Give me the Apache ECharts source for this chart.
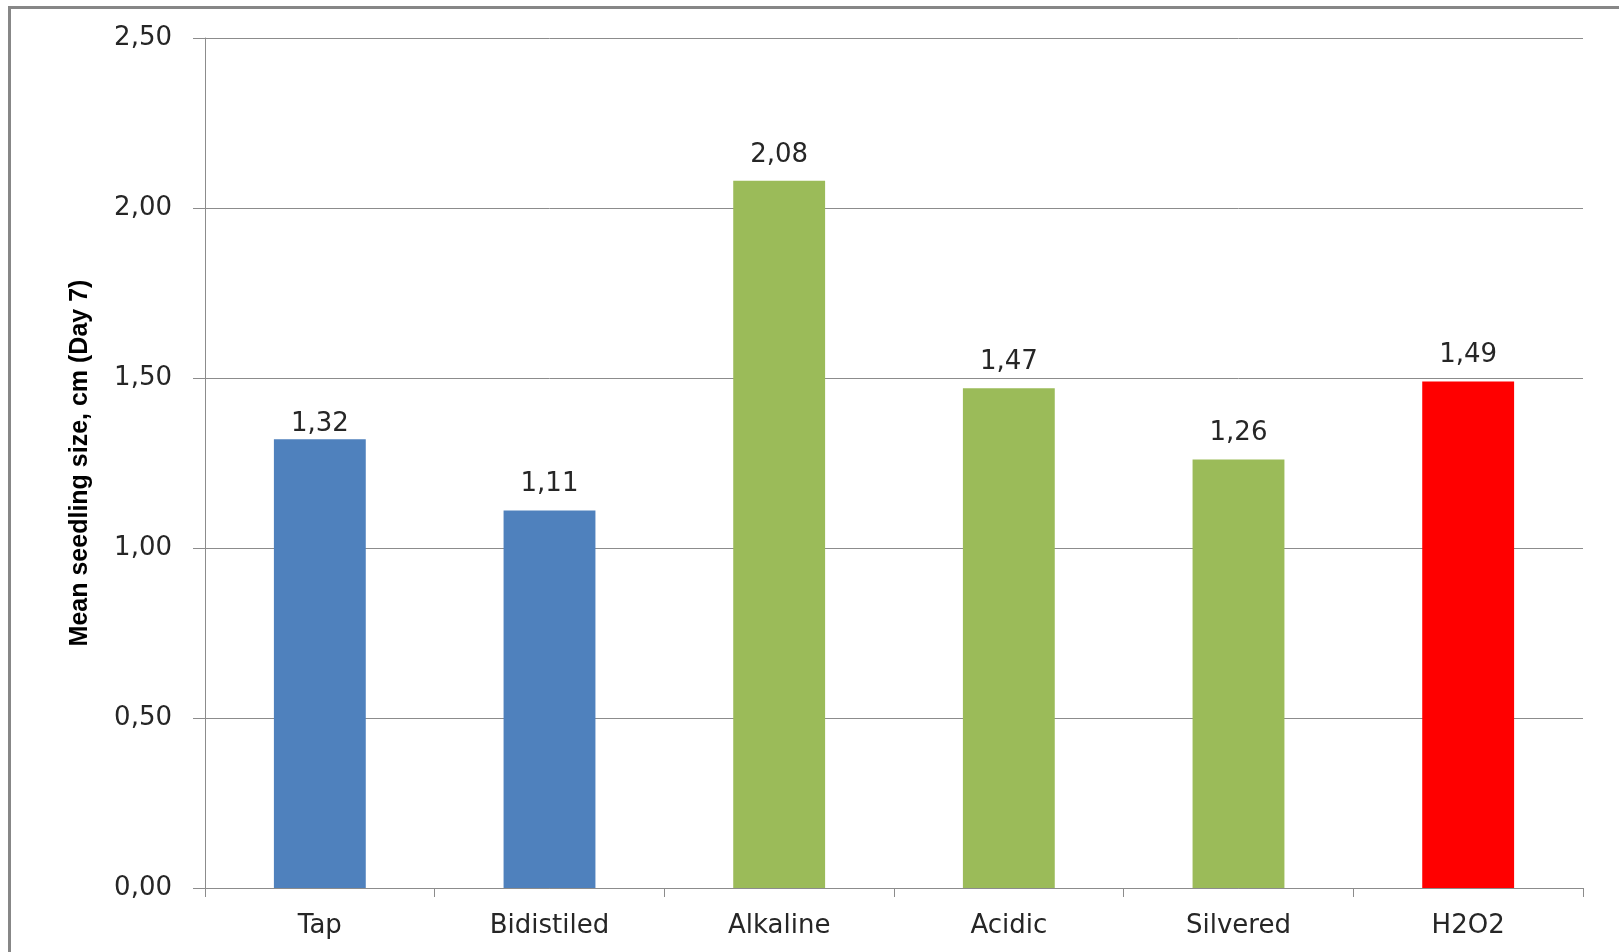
<!DOCTYPE html>
<html>
<head>
<meta charset="utf-8">
<title>Mean seedling size</title>
<script src="https://cdn.jsdelivr.net/npm/echarts@6/dist/echarts.min.js"></script>
<style>
  html, body { margin: 0; padding: 0; background: #ffffff; }
  #chart { width: 1619px; height: 952px; }
</style>
</head>
<body>
<div id="chart"></div>
<script>
// Water treatments and mean seedling size on day 7 (cm)
const categories = ['Tap', 'Bidistiled', 'Alkaline', 'Acidic', 'Silvered', 'H2O2'];
const values = [1.32, 1.11, 2.08, 1.47, 1.26, 1.49];
const barColors = ['#4F81BD', '#4F81BD', '#9BBB59', '#9BBB59', '#9BBB59', '#FF0000'];
const yTitle = 'Mean seedling size, cm (Day 7)';

// Decimal comma with two places, e.g. 1,50
const fmt = v => Number(v).toFixed(2).replace('.', ',');

const gridGray = '#8c8c8c';
const textColor = '#262626';
const baseFont = "'DejaVu Sans', Verdana, sans-serif";
const fontSize = 26;

const chart = echarts.init(document.getElementById('chart'), null, { renderer: 'canvas' });

chart.setOption({
  backgroundColor: '#ffffff',
  animation: false,
  graphic: [{
    type: 'rect',
    shape: { x: 9.5, y: 7.5, width: 1700, height: 1000 },
    style: { fill: 'none', stroke: '#878787', lineWidth: 3 },
    silent: true
  }],
  grid: { left: 205, top: 38, right: 36, bottom: 64, containLabel: false },
  xAxis: {
    type: 'category',
    data: categories,
    boundaryGap: true,
    axisLine: { show: true, lineStyle: { color: gridGray, width: 1 } },
    axisTick: { show: true, length: 9, alignWithLabel: false, lineStyle: { color: gridGray } },
    axisLabel: { margin: 25, fontSize: fontSize, color: textColor, fontFamily: baseFont },
    splitLine: { show: false }
  },
  yAxis: {
    type: 'value',
    min: 0,
    max: 2.5,
    interval: 0.5,
    name: yTitle,
    nameLocation: 'middle',
    nameGap: 112,
    nameRotate: 90,
    nameTextStyle: {
      fontSize: 25,
      fontWeight: 'bold',
      color: '#000000',
      fontFamily: "'Liberation Sans', Arial, sans-serif"
    },
    axisLine: { show: true, lineStyle: { color: gridGray, width: 1 } },
    axisTick: { show: true, inside: false, length: 12, lineStyle: { color: gridGray } },
    axisLabel: { margin: 33, fontSize: fontSize, color: textColor, fontFamily: baseFont, formatter: fmt },
    splitLine: { show: true, lineStyle: { color: gridGray, width: 1 } }
  },
  series: [{
    type: 'bar',
    barCategoryGap: '60%',
    data: values.map((v, i) => {
      const item = { value: v, itemStyle: { color: barColors[i] } };
      // the first label sits closer to its bar
      if (i === 0) item.label = { offset: [0, 11] };
      return item;
    }),
    label: {
      show: true,
      position: 'top',
      distance: 13,
      fontSize: fontSize,
      color: textColor,
      fontFamily: baseFont,
      formatter: p => fmt(p.value)
    }
  }]
});
</script>
</body>
</html>
